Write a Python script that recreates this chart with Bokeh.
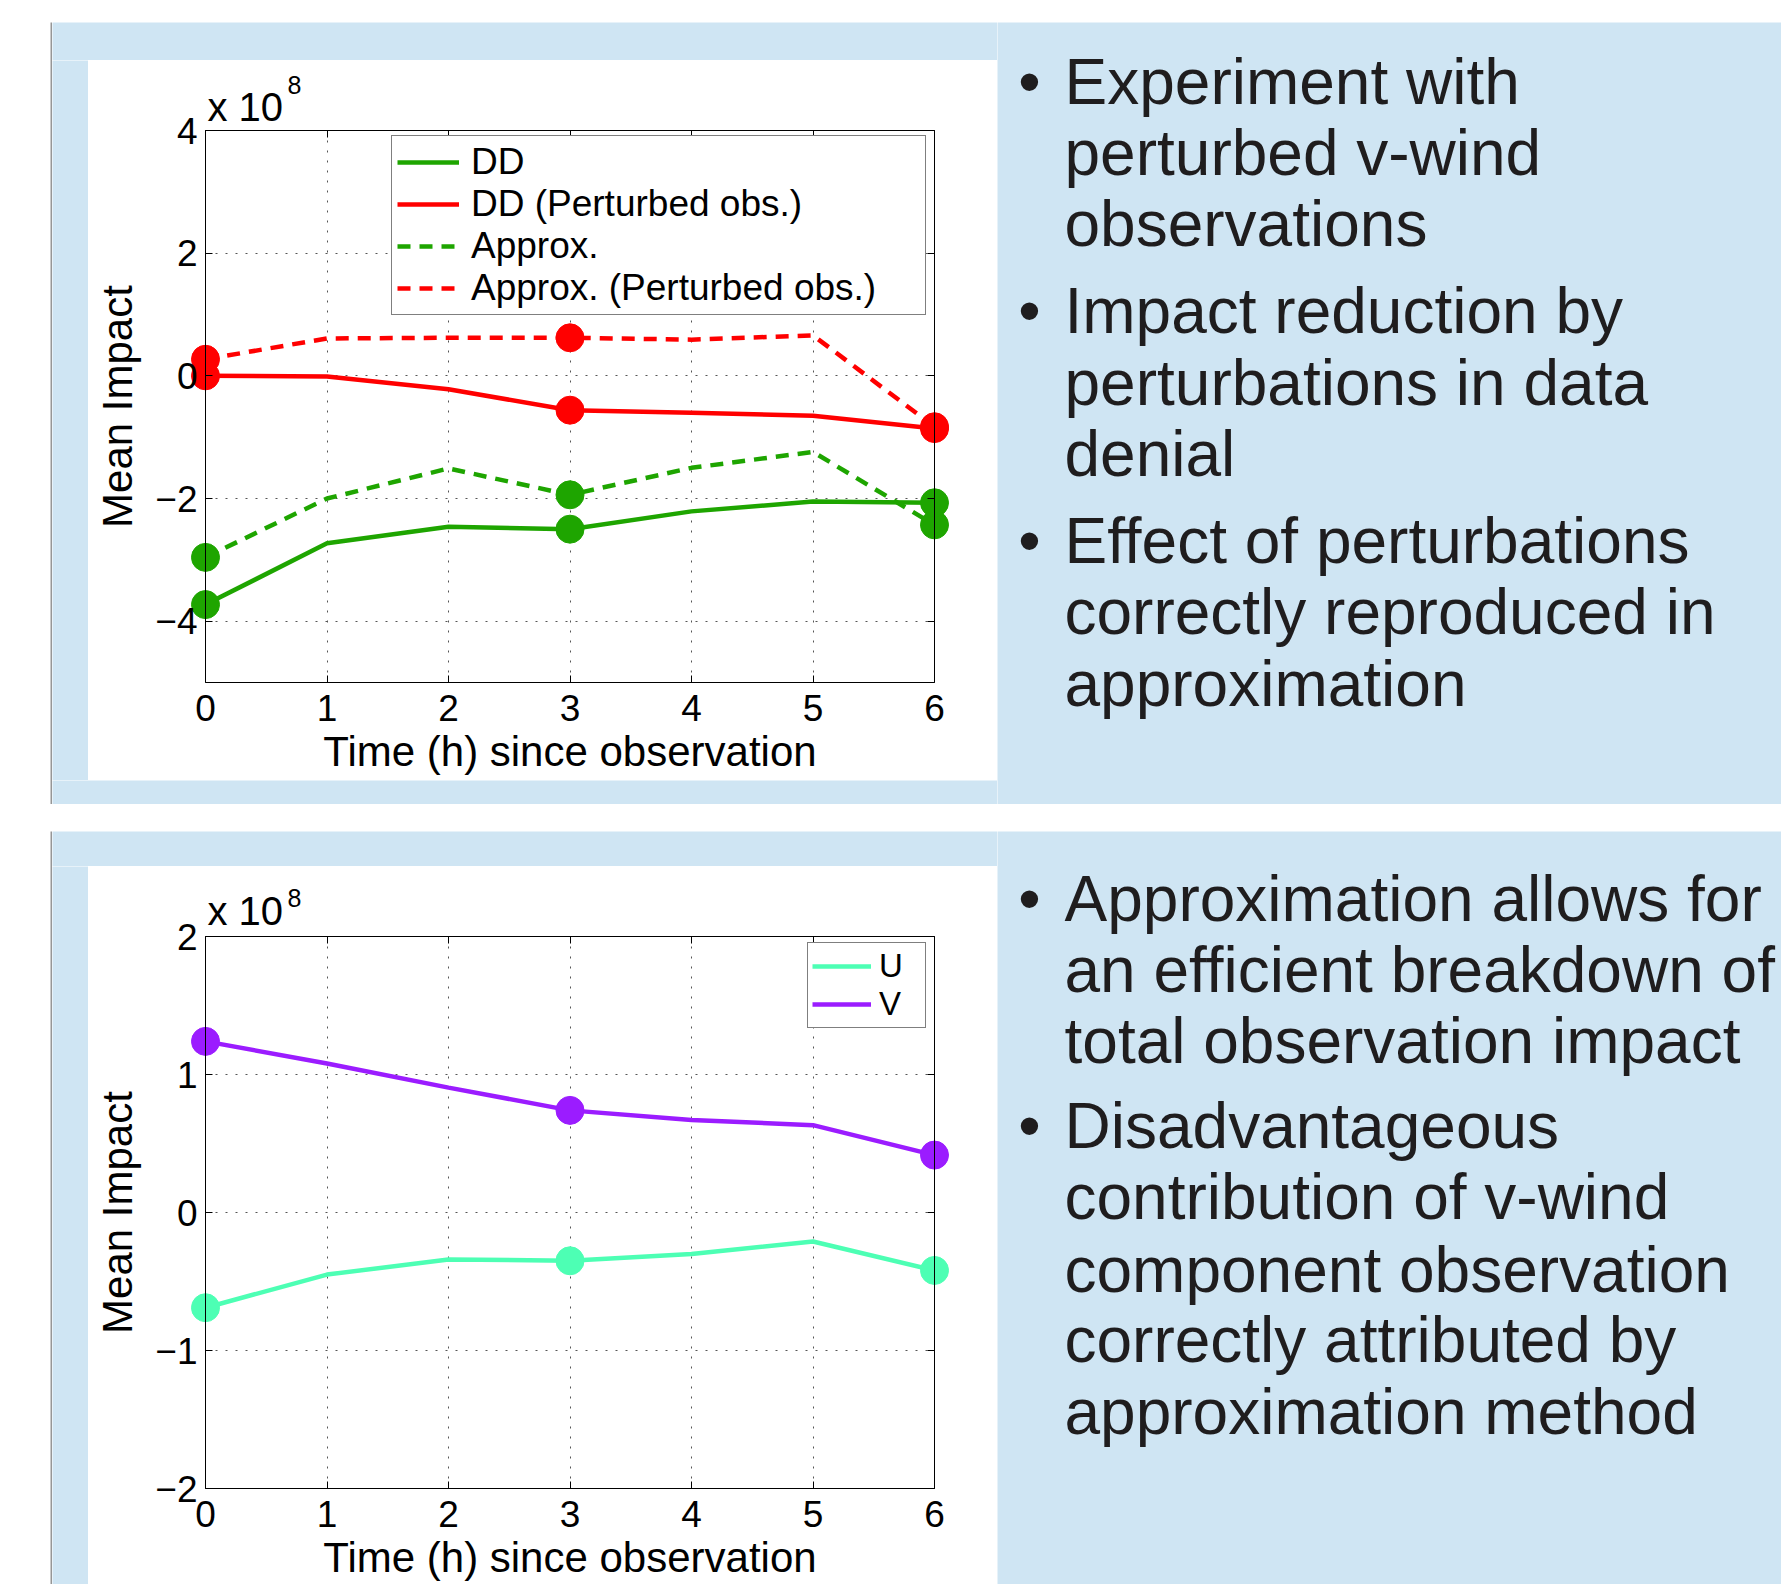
from bokeh.plotting import figure
from bokeh.models import (Range1d, LinearAxis, FixedTicker, Label, Spacer,
                          CustomJSTickFormatter)
from bokeh.layouts import column, row
from bokeh.embed import file_html
from bokeh.resources import INLINE
from bokeh.core.properties import value

# ---------------- data (values in units of 1e8) ----------------
hours = [0, 1, 2, 3, 4, 5, 6]
marker_hours = [0, 3, 6]

dd = [-3.73, -2.73, -2.46, -2.50, -2.21, -2.05, -2.07]
dd_perturbed = [0.00, -0.01, -0.22, -0.56, -0.60, -0.65, -0.86]
approx = [-2.96, -2.00, -1.51, -1.94, -1.50, -1.24, -2.43]
approx_perturbed = [0.27, 0.61, 0.62, 0.62, 0.59, 0.66, -0.83]

u_impact = [-0.69, -0.45, -0.34, -0.35, -0.30, -0.21, -0.42]
v_impact = [1.24, 1.08, 0.905, 0.74, 0.67, 0.633, 0.416]

x_ticks = [0, 1, 2, 3, 4, 5, 6]
top_y_ticks = [-4, -2, 0, 2, 4]
bottom_y_ticks = [-2, -1, 0, 1, 2]

top_bullets = [
    ["Experiment with", "perturbed v-wind", "observations"],
    ["Impact reduction by", "perturbations in data", "denial"],
    ["Effect of perturbations", "correctly reproduced in", "approximation"],
]
bottom_bullets = [
    ["Approximation allows for", "an efficient breakdown of", "total observation impact"],
    ["Disadvantageous", "contribution of v-wind", "component observation",
     "correctly attributed by", "approximation method"],
]

# ---------------- style / layout constants (pixels) ----------------
GREEN = "#1ea500"
RED = "#ff0000"
AQUA = "#4dffb4"
PURPLE = "#9b1cff"
BLUE_BG = "#cfe5f3"
BORDER = "#969696"
SHADOW = "#c4c4c4"
TEXT_DARK = "#1f1d1e"
FONT = "Liberation Sans"
BASELINE_SHIFT = 0.37   # fraction of font size: Bokeh places text this much below y

PLOT_W = 909          # white area width
AX_LEFT = 117         # axes box left edge inside white area
AX_W = 729            # axes box width
AX_TOP = 70           # axes box top inside white area
AX_H = 552            # axes box height


def tile(w, h, color):
    t = figure(width=w, height=h, min_border=0, title=None, toolbar_location=None,
               output_backend="svg", x_axis_location=None, y_axis_location=None,
               background_fill_color=color, border_fill_color=color,
               outline_line_color=None)
    t.grid.visible = False
    return t


def make_plot(white_h, y0, y1, y_ticks, exp_base):
    xpu = AX_W / 6.0
    ypu = AX_H / float(y1 - y0)
    xr = Range1d(0 - AX_LEFT / xpu, 6 + (PLOT_W - AX_LEFT - AX_W) / xpu)
    yr = Range1d(y0 - (white_h - AX_TOP - AX_H) / ypu, y1 + AX_TOP / ypu)
    p = figure(frame_width=PLOT_W, frame_height=white_h, min_border=0, title=None,
               x_range=xr, y_range=yr, output_backend="svg", toolbar_location=None,
               background_fill_color="white", border_fill_color="white",
               outline_line_color=None)

    # grid limited to the axes box
    xg, yg = p.xgrid[0], p.ygrid[0]
    xg.ticker = FixedTicker(ticks=x_ticks)
    yg.ticker = FixedTicker(ticks=y_ticks)
    if "cross_bounds" in xg.properties():
        xg.bounds = (0, 6)
        xg.cross_bounds = (y0, y1)
        yg.bounds = (y0, y1)
        yg.cross_bounds = (0, 6)
        for g in (xg, yg):
            g.grid_line_color = "#555555"
            g.grid_line_dash = "2 8"
            g.grid_line_width = 1
    else:
        xg.visible = False
        yg.visible = False
        p.segment(x0=x_ticks, x1=x_ticks, y0=[y0] * len(x_ticks), y1=[y1] * len(x_ticks),
                  line_color="#555555", line_dash="2 8", line_width=1)
        p.segment(x0=[0] * len(y_ticks), x1=[6] * len(y_ticks), y0=y_ticks, y1=y_ticks,
                  line_color="#555555", line_dash="2 8", line_width=1)

    xax, yax = p.xaxis[0], p.yaxis[0]
    xax.fixed_location = y0
    yax.fixed_location = 0
    xax.bounds = (0, 6)
    yax.bounds = (y0, y1)
    xax.ticker = FixedTicker(ticks=x_ticks)
    yax.ticker = FixedTicker(ticks=y_ticks)
    yax.major_label_overrides = {t: str(t).replace("-", "\u2212") for t in y_ticks}
    for ax in (xax, yax):
        ax.major_tick_in = 7
        ax.major_tick_out = 0
        ax.minor_tick_line_color = None
        ax.axis_line_color = "black"
        ax.major_tick_line_color = "black"
        ax.major_label_text_font = FONT
        ax.major_label_text_font_size = "37px"
        ax.major_label_text_color = "black"
        ax.axis_label_text_font = FONT
        ax.axis_label_text_font_style = "normal"
        ax.axis_label_text_color = "black"
    xax.axis_label = "Time (h) since observation"
    xax.axis_label_text_font_size = "42px"
    xax.major_label_standoff = 12
    xax.axis_label_standoff = 4
    yax.axis_label = "Mean Impact"
    yax.axis_label_text_font_size = "42px"
    yax.major_label_standoff = 8
    yax.axis_label_standoff = 11

    blank = CustomJSTickFormatter(code="return ''")
    top_ax = LinearAxis(ticker=FixedTicker(ticks=x_ticks), formatter=blank,
                        fixed_location=y1, bounds=(0, 6),
                        major_tick_in=7, major_tick_out=0, minor_tick_line_color=None,
                        axis_line_color="black", major_label_standoff=0)
    right_ax = LinearAxis(ticker=FixedTicker(ticks=y_ticks), formatter=blank,
                          fixed_location=6, bounds=(y0, y1),
                          major_tick_in=7, major_tick_out=0, minor_tick_line_color=None,
                          axis_line_color="black", major_label_standoff=0)
    p.add_layout(top_ax, "above")
    p.add_layout(right_ax, "right")

    # exponent label ("x 10" with superscript 8); exp_base = baselines above the axes top
    p.add_layout(Label(x=0, y=y1, x_offset=2, y_offset=exp_base[0] + BASELINE_SHIFT * 40,
                       text="x 10", text_font=FONT, text_font_size="40px",
                       text_color="black", text_baseline="alphabetic"))
    p.add_layout(Label(x=0, y=y1, x_offset=82, y_offset=exp_base[1] + BASELINE_SHIFT * 25,
                       text="8", text_font=FONT, text_font_size="25px",
                       text_color="black", text_baseline="alphabetic"))
    return p


def style_legend(p, font_size, padding, glyph_w, standoff, label_w, loc):
    lg = p.legend[0]
    lg.location = loc
    lg.margin = 0
    lg.padding = padding
    lg.spacing = 0
    lg.glyph_width = glyph_w
    lg.glyph_height = 20
    lg.label_height = 20
    lg.label_width = label_w
    lg.label_standoff = standoff
    lg.label_text_font = FONT
    lg.label_text_font_size = font_size
    lg.label_text_color = "black"
    lg.border_line_color = "black"
    lg.border_line_width = 1
    lg.background_fill_color = "white"
    lg.background_fill_alpha = 1.0


def text_panel(w, h, bullets, baselines, size=64):
    t = figure(width=w, height=h, min_border=0, title=None, toolbar_location=None,
               output_backend="svg", x_axis_location=None, y_axis_location=None,
               x_range=Range1d(0, w), y_range=Range1d(h, 0),
               background_fill_color=BLUE_BG, border_fill_color=BLUE_BG,
               outline_line_color=None)
    t.grid.visible = False
    shift = BASELINE_SHIFT * size
    bx, by, bt = [], [], []
    lx, ly, lt = [], [], []
    for lines, bases in zip(bullets, baselines):
        bx.append(32)
        by.append(bases[0] - shift)
        bt.append("\u2022")
        for line, b in zip(lines, bases):
            lx.append(67)
            ly.append(b - shift)
            lt.append(line)
    fs = "%dpx" % size
    t.text(x=bx, y=by, text=bt, text_align="center", text_baseline="alphabetic",
           text_font=value(FONT), text_font_size=fs, text_color=TEXT_DARK)
    t.text(x=lx, y=ly, text=lt, text_align="left", text_baseline="alphabetic",
           text_font=value(FONT), text_font_size=fs, text_color=TEXT_DARK)
    return t


# ---------------- top panel ----------------
top = make_plot(720, -5, 4, top_y_ticks, (9, 36))
top.line(hours, dd, line_color=GREEN, line_width=4.5, legend_label="DD")
top.line(hours, dd_perturbed, line_color=RED, line_width=4.5, legend_label="DD (Perturbed obs.)")
top.line(hours, approx, line_color=GREEN, line_width=4.5, line_dash="13 9", legend_label="Approx.")
top.line(hours, approx_perturbed, line_color=RED, line_width=4.5, line_dash="13 9",
         legend_label="Approx. (Perturbed obs.)")
for series, col in ((approx, GREEN), (approx_perturbed, RED), (dd, GREEN), (dd_perturbed, RED)):
    top.scatter(marker_hours, [series[h] for h in marker_hours], size=28,
                fill_color=col, line_color=col)
style_legend(top, "37px", 5, 62, 12, 449, (303, 465))

top_text = text_panel(784, 782, top_bullets,
                      [[83, 154, 225], [312, 384, 455], [542, 613, 685]])

# ---------------- bottom panel ----------------
bot = make_plot(718, -2, 2, bottom_y_ticks, (11, 29))
bot.line(hours, u_impact, line_color=AQUA, line_width=4.5, legend_label="U")
bot.line(hours, v_impact, line_color=PURPLE, line_width=4.5, legend_label="V")
for series, col in ((u_impact, AQUA), (v_impact, PURPLE)):
    bot.scatter(marker_hours, [series[h] for h in marker_hours], size=28,
                fill_color=col, line_color=col)
style_legend(bot, "33px", 4, 59, 8, 42, (719, 556))

bot_text = text_panel(784, 753, bottom_bullets,
                      [[91, 162, 233], [318, 389, 462, 532, 604]])

# ---------------- page assembly ----------------
top_block = column(
    tile(1731, 2, BORDER),
    row(tile(2, 782, BORDER),
        column(tile(945, 38, BLUE_BG), row(tile(36, 720, BLUE_BG), top), tile(945, 24, BLUE_BG)),
        top_text),
    tile(1731, 2, BORDER),
)
bot_block = column(
    tile(1731, 2, BORDER),
    row(tile(2, 753, BORDER),
        column(tile(945, 35, BLUE_BG), row(tile(36, 718, BLUE_BG), bot)),
        bot_text),
)

page = column(
    Spacer(width=1781, height=20),
    row(Spacer(width=50, height=786), top_block),
    row(Spacer(width=50, height=2), tile(1731, 2, SHADOW)),
    Spacer(width=1781, height=21),
    row(Spacer(width=50, height=755), bot_block),
)

html = file_html(page, INLINE)
html = html.replace("</head>",
                    "<style>html, body {margin:0; padding:0; overflow:hidden;}</style></head>", 1)
open("out.html", "w").write(html)
